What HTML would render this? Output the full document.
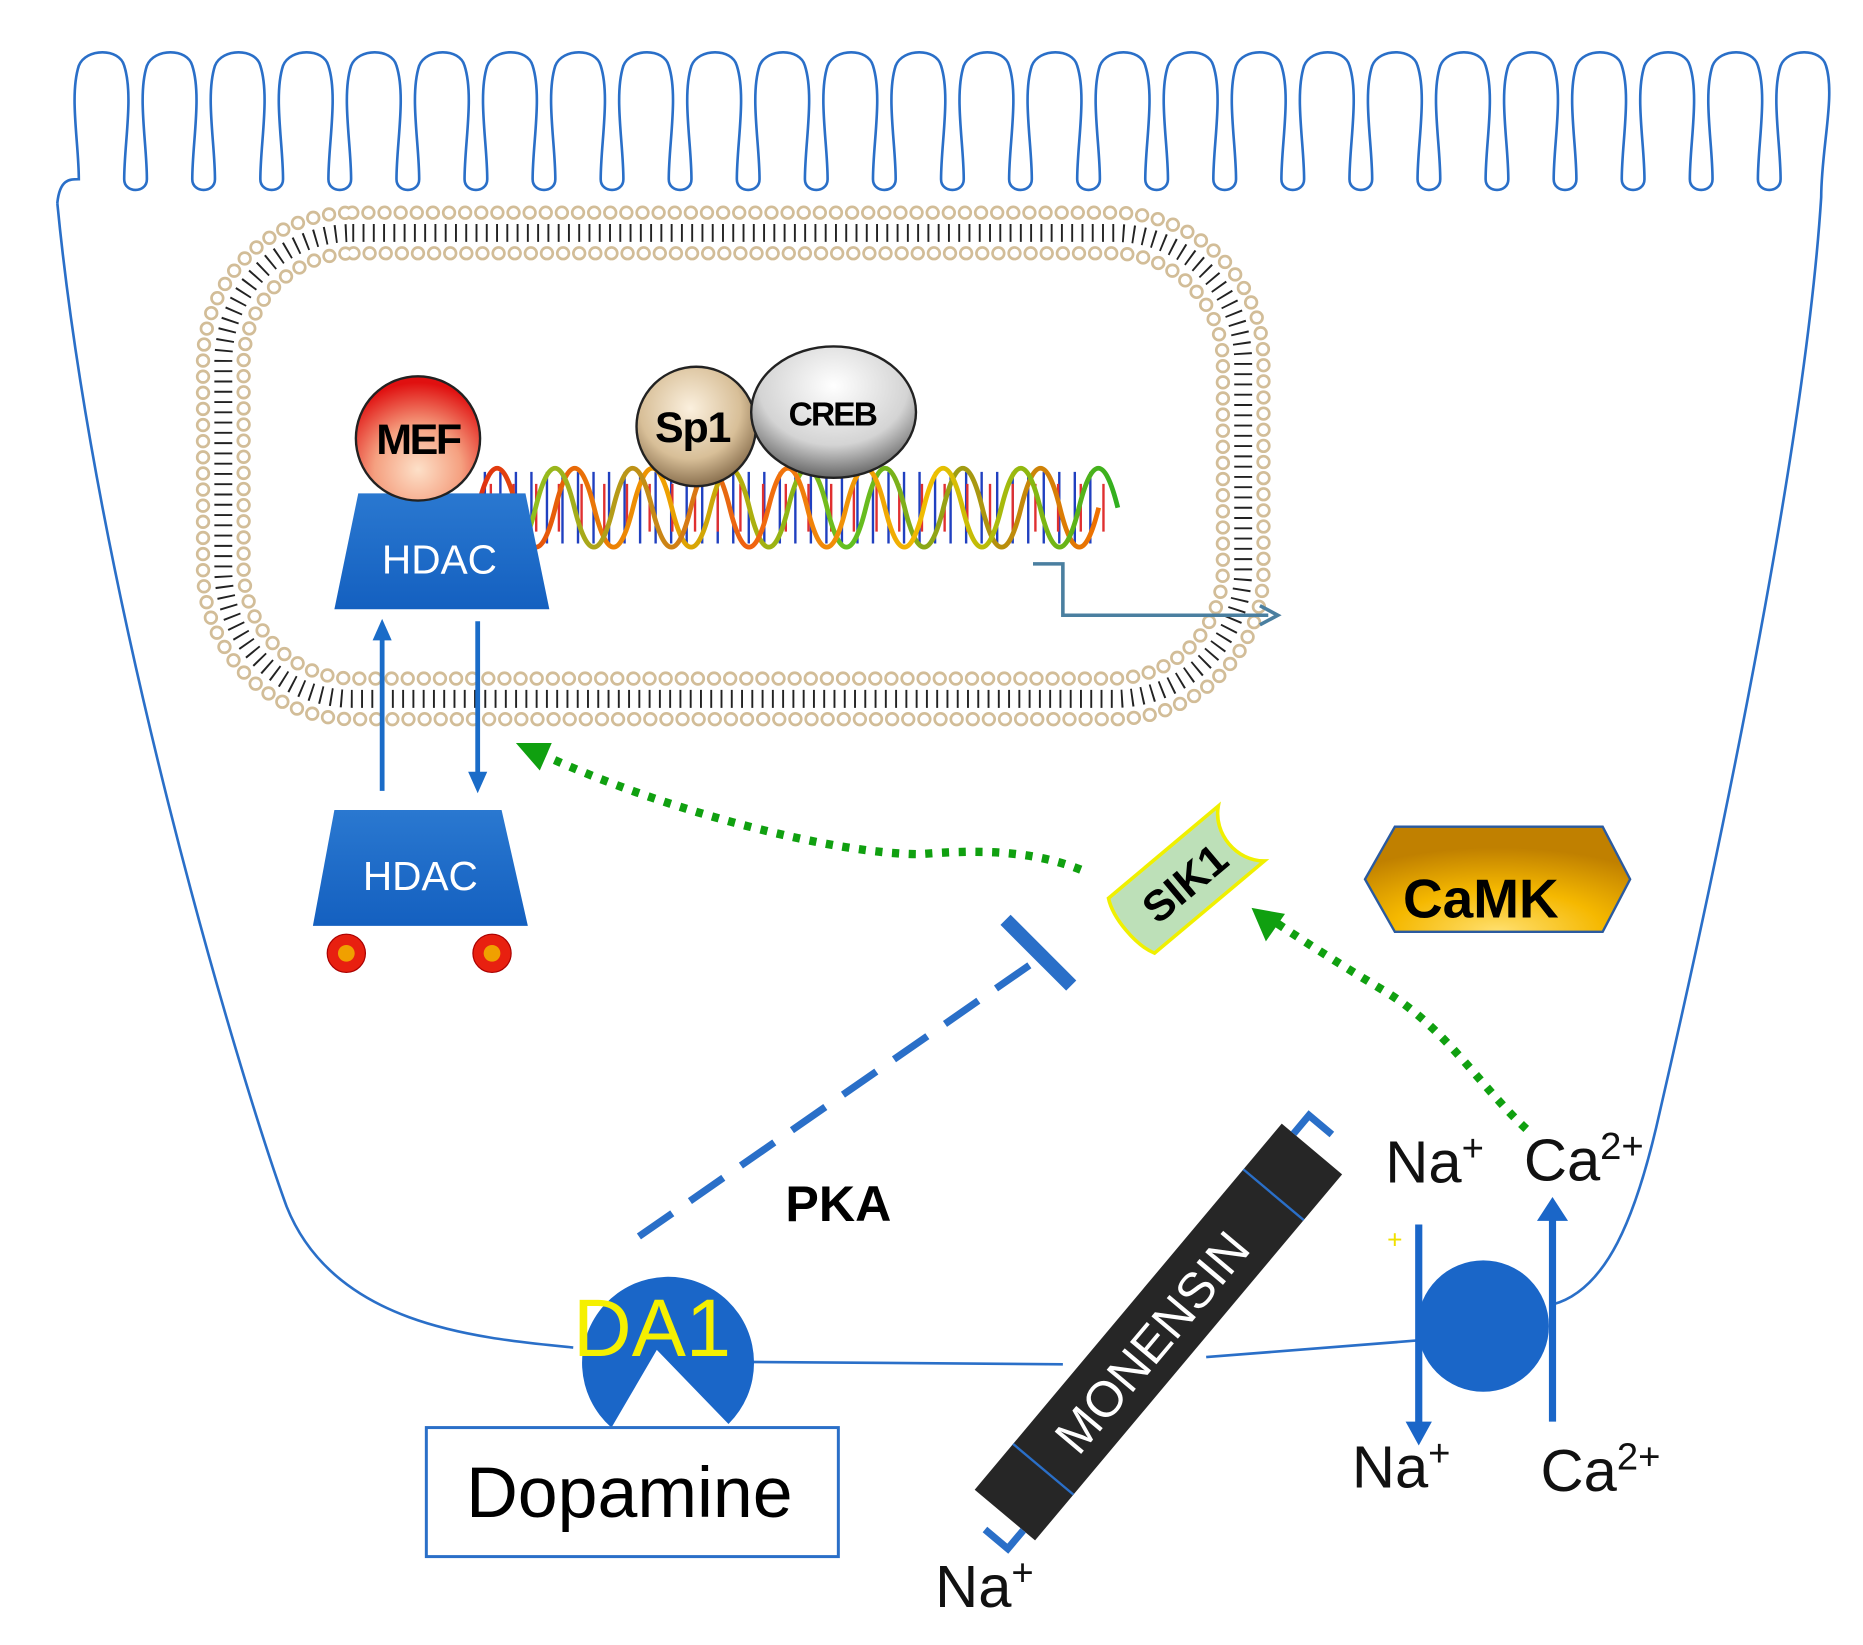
<!DOCTYPE html>
<html><head><meta charset="utf-8"><style>html,body{margin:0;padding:0;background:#fff}svg{display:block}</style></head>
<body>
<svg width="1863" height="1645" viewBox="0 0 1560 1377" preserveAspectRatio="none" xmlns="http://www.w3.org/2000/svg" font-family="Liberation Sans, sans-serif">
<defs>
<radialGradient id="mef" cx="50%" cy="75%" r="70%"><stop offset="0" stop-color="#fde0c8"/><stop offset="0.5" stop-color="#f5a080"/><stop offset="1" stop-color="#e01010"/></radialGradient>
<radialGradient id="sp1" cx="45%" cy="35%" r="70%"><stop offset="0" stop-color="#fbf0de"/><stop offset="0.6" stop-color="#d8bf98"/><stop offset="1" stop-color="#7a6040"/></radialGradient>
<radialGradient id="creb" cx="50%" cy="30%" r="75%"><stop offset="0" stop-color="#ffffff"/><stop offset="0.6" stop-color="#d4d4d4"/><stop offset="1" stop-color="#505050"/></radialGradient>
<radialGradient id="camk" cx="50%" cy="100%" r="80%"><stop offset="0" stop-color="#ffe070"/><stop offset="0.5" stop-color="#f5b800"/><stop offset="1" stop-color="#c08000"/></radialGradient>
<linearGradient id="hd" x1="0" y1="0" x2="0" y2="1"><stop offset="0" stop-color="#2a78d0"/><stop offset="1" stop-color="#1460c0"/></linearGradient>
<linearGradient id="dna1" x1="0" x2="1"><stop offset="0" stop-color="#e03010"/><stop offset="0.3" stop-color="#f0a000"/><stop offset="0.6" stop-color="#60c020"/><stop offset="1" stop-color="#f07000"/></linearGradient>
<linearGradient id="dna2" x1="0" x2="1"><stop offset="0" stop-color="#80d020"/><stop offset="0.4" stop-color="#f06010"/><stop offset="0.7" stop-color="#f0c000"/><stop offset="1" stop-color="#30b020"/></linearGradient>
</defs>

<!-- cell outline -->
<g fill="none" stroke="#2a6fc8" stroke-width="2.2">
<path d="M48,170 C50,150 58,150 66,150
c0,-30 -8,-70 0,-95 c6,-15 34,-15 38,0 c8,25 0,65 0,95 c0,12 19,12 19,0
c0,-30 -8,-70 0,-95 c6,-15 34,-15 38,0 c8,25 0,65 0,95 c0,12 19,12 19,0
c0,-30 -8,-70 0,-95 c6,-15 34,-15 38,0 c8,25 0,65 0,95 c0,12 19,12 19,0
c0,-30 -8,-70 0,-95 c6,-15 34,-15 38,0 c8,25 0,65 0,95 c0,12 19,12 19,0
c0,-30 -8,-70 0,-95 c6,-15 34,-15 38,0 c8,25 0,65 0,95 c0,12 19,12 19,0
c0,-30 -8,-70 0,-95 c6,-15 34,-15 38,0 c8,25 0,65 0,95 c0,12 19,12 19,0
c0,-30 -8,-70 0,-95 c6,-15 34,-15 38,0 c8,25 0,65 0,95 c0,12 19,12 19,0
c0,-30 -8,-70 0,-95 c6,-15 34,-15 38,0 c8,25 0,65 0,95 c0,12 19,12 19,0
c0,-30 -8,-70 0,-95 c6,-15 34,-15 38,0 c8,25 0,65 0,95 c0,12 19,12 19,0
c0,-30 -8,-70 0,-95 c6,-15 34,-15 38,0 c8,25 0,65 0,95 c0,12 19,12 19,0
c0,-30 -8,-70 0,-95 c6,-15 34,-15 38,0 c8,25 0,65 0,95 c0,12 19,12 19,0
c0,-30 -8,-70 0,-95 c6,-15 34,-15 38,0 c8,25 0,65 0,95 c0,12 19,12 19,0
c0,-30 -8,-70 0,-95 c6,-15 34,-15 38,0 c8,25 0,65 0,95 c0,12 19,12 19,0
c0,-30 -8,-70 0,-95 c6,-15 34,-15 38,0 c8,25 0,65 0,95 c0,12 19,12 19,0
c0,-30 -8,-70 0,-95 c6,-15 34,-15 38,0 c8,25 0,65 0,95 c0,12 19,12 19,0
c0,-30 -8,-70 0,-95 c6,-15 34,-15 38,0 c8,25 0,65 0,95 c0,12 19,12 19,0
c0,-30 -8,-70 0,-95 c6,-15 34,-15 38,0 c8,25 0,65 0,95 c0,12 19,12 19,0
c0,-30 -8,-70 0,-95 c6,-15 34,-15 38,0 c8,25 0,65 0,95 c0,12 19,12 19,0
c0,-30 -8,-70 0,-95 c6,-15 34,-15 38,0 c8,25 0,65 0,95 c0,12 19,12 19,0
c0,-30 -8,-70 0,-95 c6,-15 34,-15 38,0 c8,25 0,65 0,95 c0,12 19,12 19,0
c0,-30 -8,-70 0,-95 c6,-15 34,-15 38,0 c8,25 0,65 0,95 c0,12 19,12 19,0
c0,-30 -8,-70 0,-95 c6,-15 34,-15 38,0 c8,25 0,65 0,95 c0,12 19,12 19,0
c0,-30 -8,-70 0,-95 c6,-15 34,-15 38,0 c8,25 0,65 0,95 c0,12 19,12 19,0
c0,-30 -8,-70 0,-95 c6,-15 34,-15 38,0 c8,25 0,65 0,95 c0,12 19,12 19,0
c0,-30 -8,-70 0,-95 c6,-15 34,-15 38,0 c8,25 0,65 0,95 c0,12 19,12 19,0
c0,-30 -8,-70 0,-95 c6,-15 34,-15 38,0 c8,25 -4,70 -4,110
C1510,400 1420,800 1390,930 C1370,1020 1345,1080 1300,1092"/>
<path d="M48,170 C80,500 200,900 240,1010 C280,1110 400,1120 480,1128"/>
<path d="M620,1140 L890,1142"/>
<path d="M1010,1136 L1188,1122"/>
</g>

<!-- nucleus membrane -->
<g fill="none">
<rect x="170" y="178" width="888" height="424" rx="125" stroke="#d2bd98" stroke-width="12" stroke-linecap="round" stroke-dasharray="0 13.5"/>
<rect x="170" y="178" width="888" height="424" rx="125" stroke="#fff" stroke-width="7.5" stroke-linecap="round" stroke-dasharray="0 13.5"/>
<rect x="187" y="195" width="854" height="390" rx="108" stroke="#222" stroke-width="15" stroke-dasharray="1.6 7"/>
<rect x="204" y="212" width="820" height="356" rx="92" stroke="#d2bd98" stroke-width="12" stroke-linecap="round" stroke-dasharray="0 13.5"/>
<rect x="204" y="212" width="820" height="356" rx="92" stroke="#fff" stroke-width="7.5" stroke-linecap="round" stroke-dasharray="0 13.5"/>
</g>

<!-- DNA -->
<g fill="none">
<line x1="405" y1="425" x2="925" y2="425" stroke="#2040c0" stroke-width="60" stroke-dasharray="2 11"/>
<line x1="410" y1="425" x2="925" y2="425" stroke="#e03030" stroke-width="40" stroke-dasharray="2 17"/>
<path d="M400,425 q16.25,-66 32.5,0 t32.5,0 t32.5,0 t32.5,0 t32.5,0 t32.5,0 t32.5,0 t32.5,0 t32.5,0 t32.5,0 t32.5,0 t32.5,0 t32.5,0 t32.5,0 t32.5,0 t32.5,0" stroke="url(#dna1)" stroke-width="4"/>
<path d="M416,425 q16.25,66 32.5,0 t32.5,0 t32.5,0 t32.5,0 t32.5,0 t32.5,0 t32.5,0 t32.5,0 t32.5,0 t32.5,0 t32.5,0 t32.5,0 t32.5,0 t32.5,0 t32.5,0 t32.5,0" stroke="url(#dna2)" stroke-width="4"/>
</g>

<!-- HDAC nuclear -->
<polygon points="300,413 440,413 460,510 280,510" fill="url(#hd)"/>
<text x="368" y="480" font-size="34" fill="#fff" text-anchor="middle">HDAC</text>
<circle cx="350" cy="367" r="52" fill="url(#mef)" stroke="#222" stroke-width="2"/>
<text x="350" y="380" font-size="36" font-weight="bold" text-anchor="middle" letter-spacing="-2">MEF</text>
<circle cx="583" cy="357" r="50" fill="url(#sp1)" stroke="#222" stroke-width="2"/>
<text x="580" y="370" font-size="36" font-weight="bold" text-anchor="middle" letter-spacing="-1">Sp1</text>
<ellipse cx="698" cy="345" rx="69" ry="55" fill="url(#creb)" stroke="#222" stroke-width="2"/>
<text x="697" y="356" font-size="28" font-weight="bold" text-anchor="middle" letter-spacing="-1.5">CREB</text>

<!-- transcription arrow -->
<path d="M865,472 H890 V515 H1062" fill="none" stroke="#4a7fa0" stroke-width="3"/>
<path d="M1055,507 L1070,515 L1055,523" fill="none" stroke="#4a7fa0" stroke-width="3"/>

<!-- shuttle arrows -->
<g stroke="#1a6cc8" stroke-width="4" fill="#1a6cc8">
<line x1="320" y1="662" x2="320" y2="532"/>
<polygon points="312,536 320,518 328,536" stroke="none"/>
<line x1="400" y1="520" x2="400" y2="650"/>
<polygon points="392,646 400,664 408,646" stroke="none"/>
</g>

<!-- HDAC cytoplasmic -->
<polygon points="280,678 420,678 442,775 262,775" fill="url(#hd)"/>
<text x="352" y="745" font-size="34" fill="#fff" text-anchor="middle">HDAC</text>
<circle cx="290" cy="798" r="16" fill="#e82010" stroke="#a00" stroke-width="1"/>
<circle cx="290" cy="798" r="7" fill="#f0a000"/>
<circle cx="412" cy="798" r="16" fill="#e82010" stroke="#a00" stroke-width="1"/>
<circle cx="412" cy="798" r="7" fill="#f0a000"/>

<!-- green dotted arrows -->
<g fill="none" stroke="#10a010" stroke-width="7" stroke-dasharray="6 8">
<path d="M905,728 C860,710 810,712 770,715 C700,715 560,680 455,632"/>
<path d="M1278,945 C1240,910 1210,860 1160,830 C1110,800 1080,780 1062,768"/>
</g>
<polygon points="432,622 462,622 452,645" fill="#10a010"/>
<polygon points="1048,760 1076,765 1060,788" fill="#10a010"/>

<!-- SIK1 -->
<g transform="translate(995,735) rotate(-40)">
<path d="M-62,-30 L58,-30 C40,-15 40,15 58,30 L-62,30 C-70,15 -70,-15 -62,-30 Z" fill="#bde0b8" stroke="#f0f000" stroke-width="3"/>
<text x="-5" y="14" font-size="36" font-weight="bold" text-anchor="middle">SIK1</text>
</g>

<!-- CaMK -->
<polygon points="1168,692 1342,692 1365,736 1342,780 1168,780 1143,736" fill="url(#camk)" stroke="#2a5aa0" stroke-width="2"/>
<text x="1240" y="768" font-size="46" font-weight="bold" text-anchor="middle">CaMK</text>

<!-- PKA inhibition -->
<line x1="535" y1="1035" x2="862" y2="808" stroke="#2a6fc8" stroke-width="6" stroke-dasharray="34 18"/>
<line x1="842" y1="770" x2="897" y2="825" stroke="#2a6fc8" stroke-width="12"/>
<text x="702" y="1022" font-size="42" font-weight="bold" text-anchor="middle">PKA</text>

<!-- DA1 -->
<path d="M550,1130 L512,1195 A72,72 0 1 1 610,1192 Z" fill="#1a66c8"/>
<text x="546" y="1135" font-size="68" fill="#f5f000" text-anchor="middle">DA1</text>
<rect x="357" y="1195" width="345" height="108" fill="#fff" stroke="#2a6fc8" stroke-width="2.5"/>
<text x="527" y="1270" font-size="60" text-anchor="middle">Dopamine</text>

<!-- Monensin -->
<g transform="translate(970,1115) rotate(-50)">
<rect x="-200" y="-33" width="400" height="66" fill="#262626"/>
<line x1="-150" y1="-33" x2="-150" y2="33" stroke="#2a6fc8" stroke-width="2"/>
<line x1="150" y1="-33" x2="150" y2="33" stroke="#2a6fc8" stroke-width="2"/>
<path d="M200,-20 h20 v25" fill="none" stroke="#2a6fc8" stroke-width="6"/>
<path d="M-200,20 h-20 v-25" fill="none" stroke="#2a6fc8" stroke-width="6"/>
<text x="-10" y="16" font-size="42" fill="#fff" text-anchor="middle">MONENSIN</text>
</g>

<!-- channel -->
<circle cx="1242" cy="1110" r="55" fill="#1a66c8"/>
<g stroke="#1a66c8" stroke-width="6" fill="#1a66c8">
<line x1="1188" y1="1025" x2="1188" y2="1195"/>
<polygon points="1177,1190 1188,1210 1199,1190" stroke="none"/>
<line x1="1300" y1="1190" x2="1300" y2="1020"/>
<polygon points="1287,1022 1300,1002 1313,1022" stroke="none"/>
</g>
<text x="1168" y="1045" font-size="22" fill="#f0e000" text-anchor="middle">+</text>

<g font-size="50" fill="#111">
<text x="1160" y="990">Na<tspan font-size="32" dy="-18">+</tspan></text>
<text x="1276" y="988">Ca<tspan font-size="32" dy="-18">2+</tspan></text>
<text x="1132" y="1245">Na<tspan font-size="32" dy="-18">+</tspan></text>
<text x="1290" y="1248">Ca<tspan font-size="32" dy="-18">2+</tspan></text>
<text x="783" y="1345">Na<tspan font-size="32" dy="-18">+</tspan></text>
</g>
</svg>
</body></html>
